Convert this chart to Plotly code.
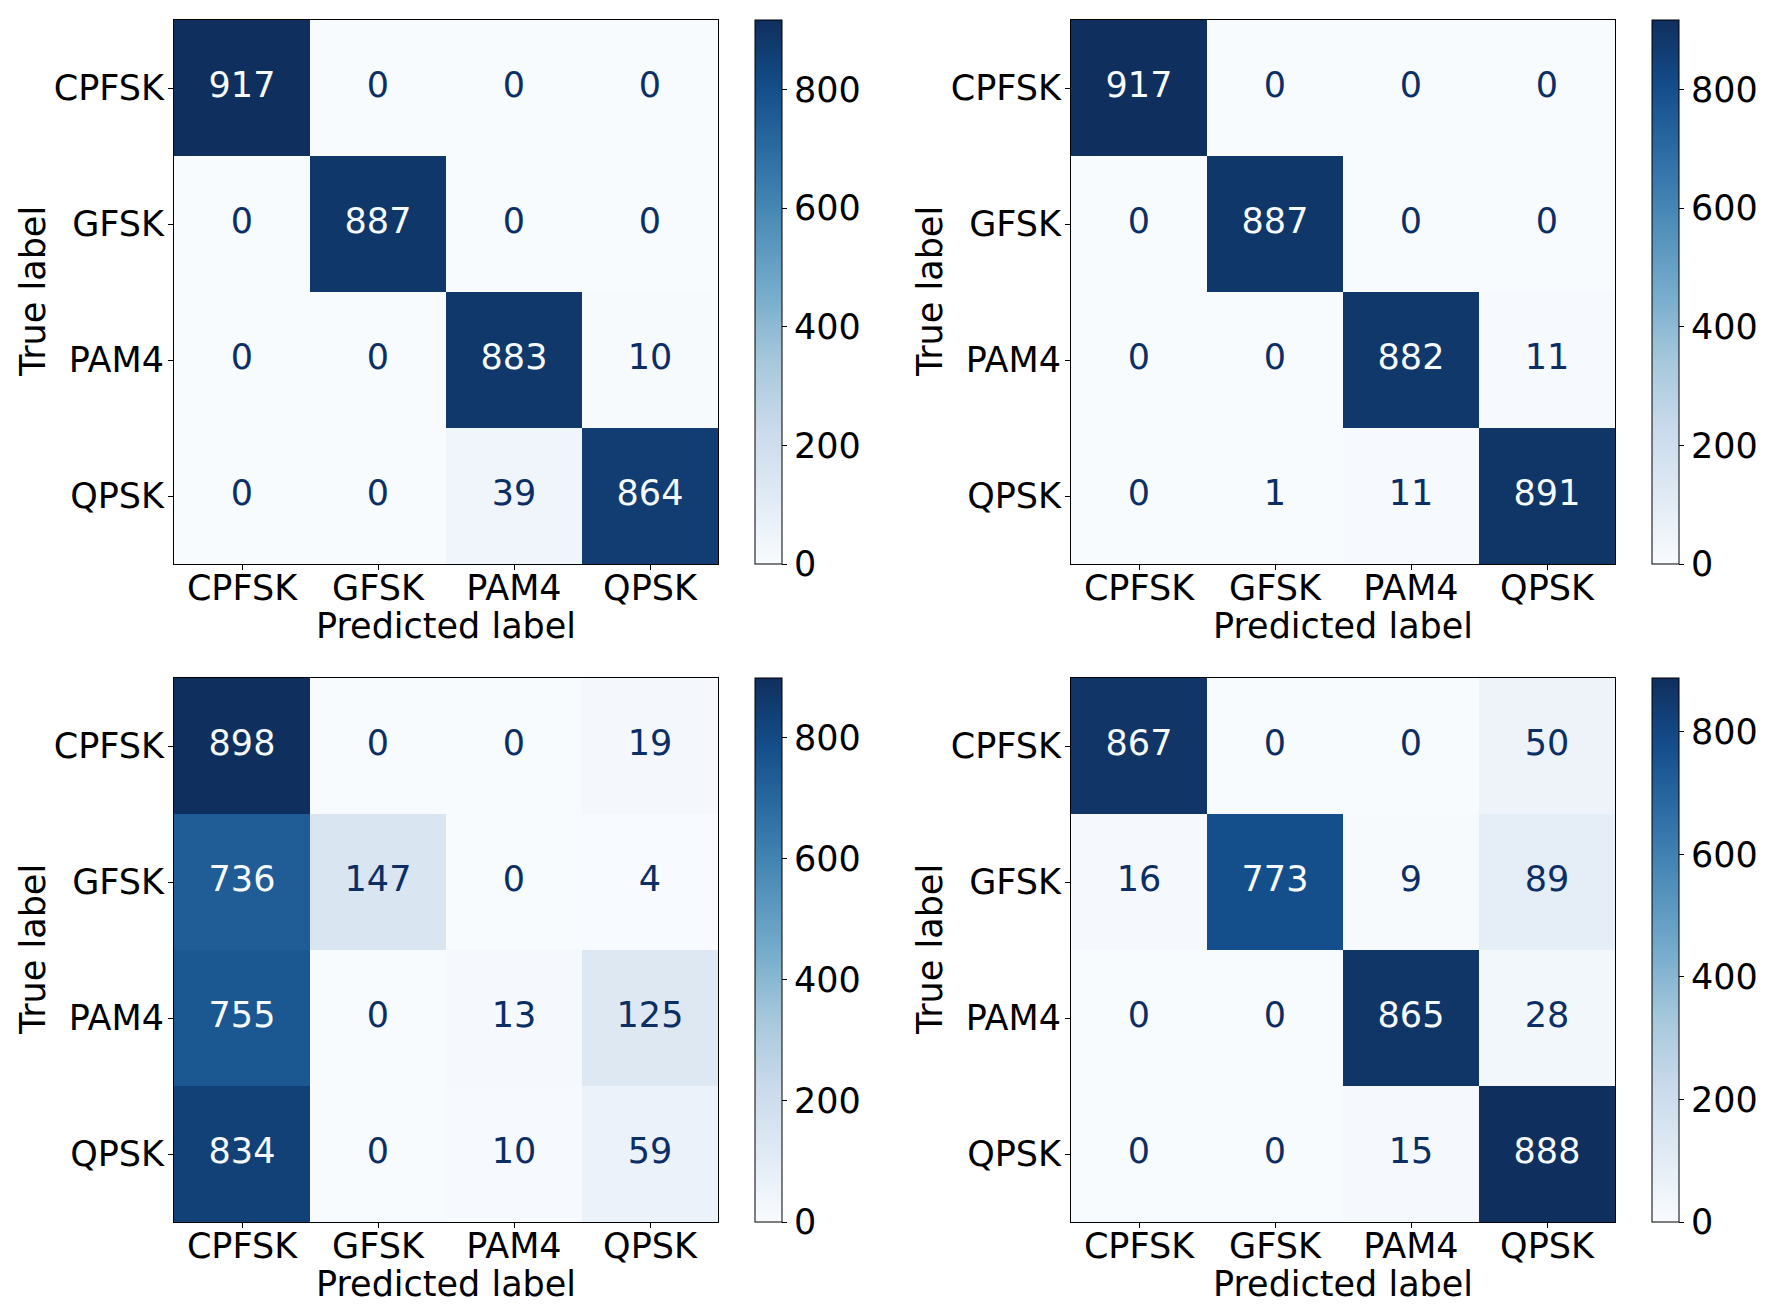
import plotly.graph_objects as go
import plotly.colors as pc

# ── DATA ─────────────────────────────────────────────────────
labels = ['CPFSK', 'GFSK', 'PAM4', 'QPSK']
cm_top_left = [[917, 0, 0, 0],
               [0, 887, 0, 0],
               [0, 0, 883, 10],
               [0, 0, 39, 864]]
cm_top_right = [[917, 0, 0, 0],
                [0, 887, 0, 0],
                [0, 0, 882, 11],
                [0, 1, 11, 891]]
cm_bottom_left = [[898, 0, 0, 19],
                  [736, 147, 0, 4],
                  [755, 0, 13, 125],
                  [834, 0, 10, 59]]
cm_bottom_right = [[867, 0, 0, 50],
                   [16, 773, 9, 89],
                   [0, 0, 865, 28],
                   [0, 0, 15, 888]]
cbar_ticks = [0, 200, 400, 600, 800]

# ── STYLE ────────────────────────────────────────────────────
W, H = 1770, 1304
FONT = 'DejaVu Sans'
FS = 35

# Blues, slightly washed out like the source image
def soften(c, amt=0.2):
    r, g, b = pc.unlabel_rgb(c)
    lum = 0.299 * r + 0.587 * g + 0.114 * b
    return 'rgb(%d,%d,%d)' % tuple(round(v * (1 - amt) + lum * amt) for v in (r, g, b))

blues = [soften(c) for c in pc.sequential.Blues]
dark = soften('rgb(8,48,107)', 0.1)
light = 'rgb(247,251,255)'

def fx(p):
    return p / W

def fy(p):
    return 1 - p / H

# heatmap boxes in pixels: (left, right, top, bottom)
boxes = [(166, 710, 12, 556), (1063, 1607, 12, 556),
         (166, 710, 670, 1214), (1063, 1607, 670, 1214)]
mats = [cm_top_left, cm_top_right, cm_bottom_left, cm_bottom_right]

fig = go.Figure()
layout = {}
annotations = []

for k, (cm, box) in enumerate(zip(mats, boxes)):
    n = '' if k == 0 else str(k + 1)
    l, r, t, b = box
    zmax = max(max(row) for row in cm)
    zmin = min(min(row) for row in cm)
    thresh = (zmax + zmin) / 2

    fig.add_trace(go.Heatmap(
        z=cm, x=labels, y=labels, xaxis='x' + n, yaxis='y' + n,
        colorscale=blues, zmin=zmin, zmax=zmax,
        hoverinfo='skip',
        colorbar=dict(
            x=fx(r + 37), xanchor='left', xpad=0,
            y=fy((t + b) / 2), yanchor='middle', ypad=0,
            len=b - t, lenmode='pixels',
            thickness=27, thicknessmode='pixels',
            outlinewidth=1, outlinecolor='black',
            tickvals=cbar_ticks, ticks='outside', ticklen=5,
            tickcolor='black',
            tickfont=dict(family=FONT, size=FS, color='black'),
        ),
    ))

    # cell counts, light text on dark cells
    xs, ys, txt, cols = [], [], [], []
    for i, row in enumerate(cm):
        for j, v in enumerate(row):
            xs.append(labels[j])
            ys.append(labels[i])
            txt.append(str(v))
            cols.append(dark if v < thresh else light)
    fig.add_trace(go.Scatter(
        x=xs, y=ys, text=txt, mode='text', xaxis='x' + n, yaxis='y' + n,
        textfont=dict(family=FONT, size=FS, color=cols),
        hoverinfo='skip', showlegend=False,
    ))

    axis_common = dict(
        showline=True, mirror=True, linecolor='black', linewidth=1,
        ticks='outside', ticklen=5, tickcolor='black',
        showgrid=False, zeroline=False, type='category',
        categoryorder='array', categoryarray=labels,
        tickfont=dict(family=FONT, size=FS, color='black'),
    )
    layout['xaxis' + n] = dict(axis_common, domain=[fx(l), fx(r)],
                               anchor='y' + n, ticklabelstandoff=-12)
    layout['yaxis' + n] = dict(axis_common, domain=[fy(b), fy(t)],
                               anchor='x' + n, autorange='reversed',
                               ticklabelstandoff=-3)

    annotations.append(dict(
        text='Predicted label', xref='paper', yref='paper',
        x=fx((l + r) / 2), y=fy(b + 62), xanchor='center', yanchor='middle',
        showarrow=False, font=dict(family=FONT, size=FS, color='black')))
    annotations.append(dict(
        text='True label', xref='paper', yref='paper', textangle=-90,
        x=fx(l - 141), y=fy((t + b) / 2), xanchor='center', yanchor='middle',
        showarrow=False, font=dict(family=FONT, size=FS, color='black')))

fig.update_layout(
    width=W, height=H,
    margin=dict(l=0, r=0, t=0, b=0),
    paper_bgcolor='white', plot_bgcolor='white',
    showlegend=False,
    annotations=annotations,
    font=dict(family=FONT, size=FS, color='black'),
    **layout,
)

fig.write_html('out.html')
